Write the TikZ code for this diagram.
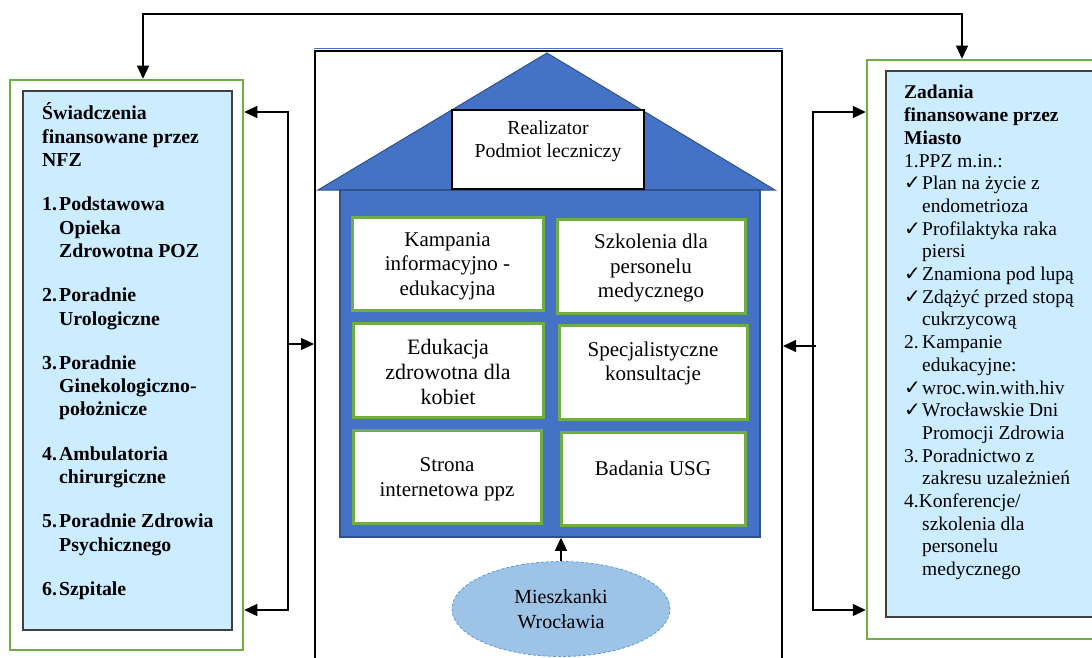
\documentclass[tikz,border=0pt]{standalone}
\usepackage{fontspec}
\setmainfont{Liberation Serif}
\newfontfamily\checkfont{DejaVu Sans}
\usetikzlibrary{arrows.meta,shapes.geometric,fit}

\definecolor{frgreen}{HTML}{70AD47}
\definecolor{paleblue}{HTML}{CCECFF}
\definecolor{houseblue}{HTML}{4472C4}
\definecolor{houseedge}{HTML}{2F528F}
\definecolor{ovalblue}{HTML}{9DC3E6}
\definecolor{ovaledge}{HTML}{5B9BD5}

\newcommand{\chk}{\makebox[18pt][l]{\checkfont\fontsize{20}{20}\selectfont ✓}}
\newcommand{\numb}[1]{\makebox[17pt][l]{#1}}
\newcommand{\indt}{\makebox[18pt][l]{}}

\begin{document}
\begin{tikzpicture}[x=1pt, y=-1pt,
    outerframe/.style={draw=frgreen, line width=2.5pt, inner sep=0pt},
    paleframe/.style={draw=black!75, fill=paleblue, line width=1.5pt, inner sep=0pt},
    cellbox/.style={draw=frgreen, fill=white, line width=3pt, inner sep=0pt},
    celltext/.style={align=center, inner sep=0pt, font=\fontsize{21}{24.5}\selectfont},
    link/.style={line width=1.2pt, -{Triangle[length=13pt, width=12pt]}},
    twoway/.style={line width=1.2pt, {Triangle[length=13pt, width=12pt]}-{Triangle[length=13pt, width=12pt]}},
  ]
  \useasboundingbox (0,0) rectangle (1092,658);
  \clip (0,0) rectangle (1092,658);

  % left column: NFZ
  \node[outerframe, fit={(10,80) (243,650)}] (nfz) {};
  \node[paleframe, fit={(23,91) (232,630)}] (nfzin) {};
  \node[anchor=base west, inner sep=0pt, font=\bfseries\fontsize{19.8}{23.3}\selectfont] (nfztxt) at (42,120) {%
    \begin{tabular}[t]{@{}l@{}}
      Świadczenia\\
      finansowane przez\\
      NFZ\\[21pt]
      \numb{1.}Podstawowa\\
      \numb{}Opieka\\
      \numb{}Zdrowotna POZ\\[21pt]
      \numb{2.}Poradnie\\
      \numb{}Urologiczne\\[21pt]
      \numb{3.}Poradnie\\
      \numb{}Ginekologiczno-\\
      \numb{}położnicze\\[21pt]
      \numb{4.}Ambulatoria\\
      \numb{}chirurgiczne\\[21pt]
      \numb{5.}Poradnie Zdrowia\\
      \numb{}Psychicznego\\[21pt]
      \numb{6.}Szpitale
    \end{tabular}};

  % right column: Miasto
  \node[outerframe, fit={(867,60) (1120,639)}] (miasto) {};
  \node[paleframe, fit={(886,71) (1110,617)}] (miastoin) {};
  \node[anchor=base west, inner sep=0pt, font=\fontsize{19.5}{22.7}\selectfont] (miastotxt) at (904,99) {%
    \begin{tabular}[t]{@{}l@{}}
      \textbf{Zadania}\\
      \textbf{finansowane przez}\\
      \textbf{Miasto}\\
      1.PPZ m.in.:\\
      \chk Plan na życie z\\
      \indt endometrioza\\
      \chk Profilaktyka raka\\
      \indt piersi\\
      \chk Znamiona pod lupą\\
      \chk Zdążyć przed stopą\\
      \indt cukrzycową\\
      \numb{2.}\hspace{1pt}Kampanie\\
      \indt edukacyjne:\\
      \chk wroc.win.with.hiv\\
      \chk Wrocławskie Dni\\
      \indt Promocji Zdrowia\\
      \numb{3.}\hspace{1pt}Poradnictwo z\\
      \indt zakresu uzależnień\\
      4.Konferencje/\\
      \indt szkolenia dla\\
      \indt personelu\\
      \indt medycznego
    \end{tabular}};

  % middle: frame and house
  \node[draw, line width=2pt, inner sep=0pt, fit={(315,51) (782,700)}] (frame) {};
  \draw[houseblue, line width=1.2pt] ([yshift=1.3pt]frame.north west) -- ([yshift=1.3pt]frame.north east);
  \filldraw[fill=houseblue, draw=houseedge, line width=1pt] (318,190) -- (547,53) -- (775,190) -- cycle;
  \node[fill=houseblue, draw=houseedge, line width=1.5pt, inner sep=0pt, fit={(340,190) (760,537)}] (house) {};
  \node[draw, fill=white, line width=1.2pt, inner sep=0pt, fit={(452,110) (644,189)}] (realiz) {};
  \node[align=center, inner sep=0pt, font=\fontsize{19.8}{23}\selectfont] (realtxt) at ([yshift=8pt]realiz.center) {Realizator\\Podmiot leczniczy};

  \node[cellbox, fit={(352,217) (543,310)}] (kamp) {};
  \node[cellbox, fit={(557,219) (745,313)}] (szkol) {};
  \node[cellbox, fit={(353,323) (543,417)}] (eduk) {};
  \node[cellbox, fit={(559,325) (747,419)}] (spec) {};
  \node[cellbox, fit={(353,430) (541,523)}] (strona) {};
  \node[cellbox, fit={(561,432) (745,525)}] (usg) {};
  \node[celltext] (kamptxt) at ([yshift=-2.5pt]kamp.center) {Kampania\\informacyjno -\\edukacyjna};
  \node[celltext] (szkoltxt) at ([yshift=-2pt]szkol.center) {Szkolenia dla\\personelu\\medycznego};
  \node[celltext, font=\fontsize{22}{25}\selectfont] (eduktxt) at ([yshift=-2pt]eduk.center) {Edukacja\\zdrowotna dla\\kobiet};
  \node[celltext] (spectxt) at ([yshift=8.5pt]spec.center) {Specjalistyczne\\konsultacje};
  \node[celltext] (stronatxt) at ([yshift=-3pt]strona.center) {Strona\\internetowa ppz};
  \node[celltext] (usgtxt) at ([yshift=10.5pt]usg.center) {Badania USG};

  \node[ellipse, fill=ovalblue, draw=ovaledge, dash pattern=on 3pt off 2pt, line width=0.8pt,
        minimum width=218pt, minimum height=95pt, inner sep=0pt, align=center,
        font=\fontsize{20}{25}\selectfont] (mieszk) at (561,609) {Mieszkanki\\Wrocławia};

  % connectors
  \coordinate (topl) at (143,14);
  \coordinate (topr) at (962,14);
  \draw[twoway] (topl |- nfz.north) -- (topl) -- (topr) -- (topr |- miasto.north);

  \coordinate (lbtop) at (288,112);
  \coordinate (lbbot) at (288,610);
  \coordinate (lbmid) at (288,344);
  \draw[twoway] (lbtop -| nfz.east) -- (lbtop) -- (lbbot) -- (lbbot -| nfz.east);
  \draw[link] (lbmid) -- (lbmid -| frame.west);

  \coordinate (rbtop) at (813,112);
  \coordinate (rbbot) at (813,610);
  \coordinate (rbmid) at (816,346);
  \draw[twoway] (rbtop -| miasto.west) -- (rbtop) -- (rbbot) -- (rbbot -| miasto.west);
  \draw[link] (rbmid) -- (rbmid -| frame.east);

  \draw[link] (mieszk.north) -- (mieszk.north |- house.south);
\end{tikzpicture}
\end{document}
